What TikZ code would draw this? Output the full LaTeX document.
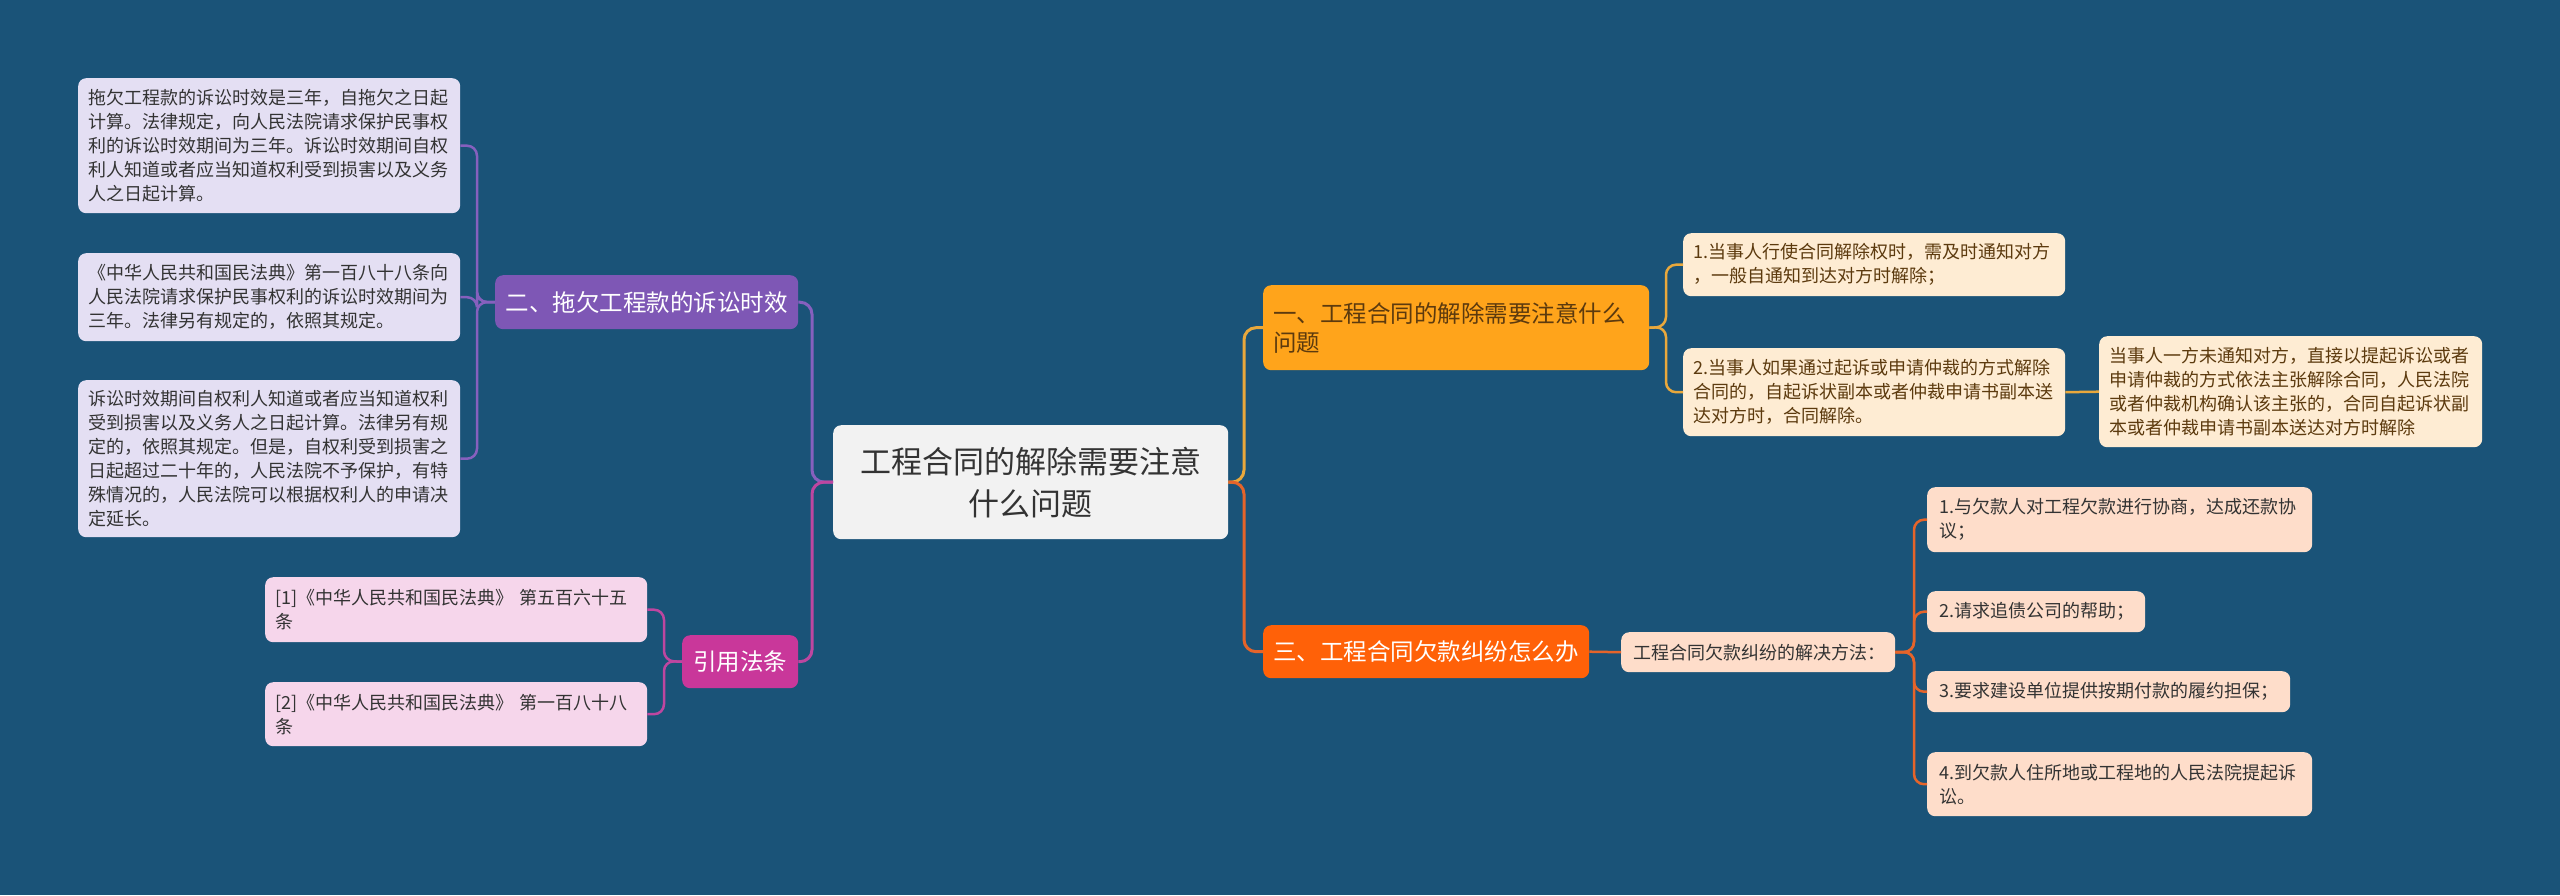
\documentclass[tikz,border=0pt]{standalone}
\usepackage{fontspec}
\setmainfont{Noto Sans CJK SC}
\definecolor{bg}{HTML}{1A5378}
\definecolor{rootfill}{HTML}{F2F2F2}
\definecolor{roottext}{HTML}{333333}
\definecolor{purfill}{HTML}{7E57B5}
\definecolor{purline}{HTML}{8660BE}
\definecolor{lavfill}{HTML}{E4DFF3}
\definecolor{pinkfill}{HTML}{C9379A}
\definecolor{pinkline}{HTML}{BE46A0}
\definecolor{citefill}{HTML}{F6D6EB}
\definecolor{goldfill}{HTML}{FFA41B}
\definecolor{goldline}{HTML}{E9A83C}
\definecolor{creamfill}{HTML}{FEECD3}
\definecolor{creamtext}{HTML}{5C3A0E}
\definecolor{orfill}{HTML}{FF6108}
\definecolor{orline}{HTML}{E5642A}
\definecolor{peachfill}{HTML}{FEDDCA}
\definecolor{darktext}{HTML}{333333}
\begin{document}
\begin{tikzpicture}[x=1pt,y=-1pt,
  bx/.style={rounded corners=8pt, inner ysep=0pt, anchor=north west},
  leaf/.style={bx, inner xsep=10pt, align=left, font=\fontsize{18}{24}\selectfont},
  lav/.style={leaf, fill=lavfill, text=darktext},
  cite/.style={leaf, fill=citefill, text=darktext},
  cream/.style={leaf, fill=creamfill, text=creamtext},
  peach/.style={leaf, inner xsep=12pt, fill=peachfill, text=darktext},
  mainbr/.style={bx, align=center, font=\fontsize{23.5}{29}\selectfont},
  mainline/.style={line width=3pt, rounded corners=12pt},
  subline/.style={line width=2.5pt, rounded corners=10pt}
]
\fill[bg] (0,0) rectangle (2560,895);
\useasboundingbox (0,0) rectangle (2560,895);

% junctions
\coordinate (jL) at (812,482);
\coordinate (jLL) at (477,302);
\coordinate (jP) at (664,661);
\coordinate (jR) at (1244,482);
\coordinate (jG) at (1666,327);
\coordinate (jO) at (1914,652);

% root
\node[bx, fill=rootfill, text=roottext, align=center, font=\fontsize{31}{42}\selectfont,
  minimum width=395pt, minimum height=114pt] (root) at (833,425) {工程合同的解除需要注意\\什么问题};

% left branch 二
\node[mainbr, fill=purfill, text=white, minimum width=303pt, minimum height=54pt] (n2) at (495,275) {二、拖欠工程款的诉讼时效};
\node[lav, text width=362pt, minimum height=135pt] (L1) at (78,78) {拖欠工程款的诉讼时效是三年，自拖欠之日起\\计算。法律规定，向人民法院请求保护民事权\\利的诉讼时效期间为三年。诉讼时效期间自权\\利人知道或者应当知道权利受到损害以及义务\\人之日起计算。};
\node[lav, text width=362pt, minimum height=88pt] (L2) at (78,253) {《中华人民共和国民法典》第一百八十八条向\\人民法院请求保护民事权利的诉讼时效期间为\\三年。法律另有规定的，依照其规定。};
\node[lav, text width=362pt, minimum height=157pt] (L3) at (78,380) {诉讼时效期间自权利人知道或者应当知道权利\\受到损害以及义务人之日起计算。法律另有规\\定的，依照其规定。但是，自权利受到损害之\\日起超过二十年的，人民法院不予保护，有特\\殊情况的，人民法院可以根据权利人的申请决\\定延长。};

% left branch 引用法条
\node[mainbr, fill=pinkfill, text=white, minimum width=116pt, minimum height=53pt] (cite) at (682,635) {引用法条};
\node[cite, text width=362pt, minimum height=65pt] (C1) at (265,577) {[1]《中华人民共和国民法典》 第五百六十五\\条};
\node[cite, text width=362pt, minimum height=64pt] (C2) at (265,682) {[2]《中华人民共和国民法典》 第一百八十八\\条};

% right branch 一
\node[bx, fill=goldfill, text=creamtext, inner xsep=10pt, align=left, font=\fontsize{23.5}{29}\selectfont,
  text width=366pt, minimum height=85pt] (n1) at (1263,285) {一、工程合同的解除需要注意什么\\问题};
\node[cream, text width=362pt, minimum height=63pt] (Cr1) at (1683,233) {1.当事人行使合同解除权时，需及时通知对方\\，一般自通知到达对方时解除；};
\node[cream, text width=362pt, minimum height=88pt] (Cr2) at (1683,348) {2.当事人如果通过起诉或申请仲裁的方式解除\\合同的，自起诉状副本或者仲裁申请书副本送\\达对方时，合同解除。};
\node[cream, text width=363pt, minimum height=111pt] (Cr3) at (2099,336) {当事人一方未通知对方，直接以提起诉讼或者\\申请仲裁的方式依法主张解除合同，人民法院\\或者仲裁机构确认该主张的，合同自起诉状副\\本或者仲裁申请书副本送达对方时解除};

% right branch 三
\node[mainbr, fill=orfill, text=white, minimum width=326pt, minimum height=53pt] (n3) at (1263,625) {三、工程合同欠款纠纷怎么办};
\node[peach, text width=250pt, minimum height=40pt] (M) at (1621,632) {工程合同欠款纠纷的解决方法：};
\node[peach, text width=361pt, minimum height=65pt] (P1) at (1927,487) {1.与欠款人对工程欠款进行协商，达成还款协\\议；};
\node[peach, text width=194pt, minimum height=41pt] (P2) at (1927,591) {2.请求追债公司的帮助；};
\node[peach, text width=339pt, minimum height=41pt] (P3) at (1927,671) {3.要求建设单位提供按期付款的履约担保；};
\node[peach, text width=361pt, minimum height=64pt] (P4) at (1927,752) {4.到欠款人住所地或工程地的人民法院提起诉\\讼。};

% connectors
\draw[mainline, purline] (root.west) -- (jL) |- (n2.east);
\draw[mainline, pinkline] (root.west) -- (jL) |- (cite.east);
\draw[mainline, goldline] (root.east) -- (jR) |- (n1.west);
\draw[mainline, orline] (root.east) -- (jR) |- (n3.west);

\draw[subline, purline] (n2.west) -- (jLL) |- (L1.east);
\draw[subline, purline] (n2.west) -- (jLL) |- (L2.east);
\draw[subline, purline] (n2.west) -- (jLL) |- (L3.east);

\draw[subline, pinkline] (cite.west) -- (jP) |- (C1.east);
\draw[subline, pinkline] (cite.west) -- (jP) |- (C2.east);

\draw[subline, goldline] (n1.east) -- (jG) |- (Cr1.west);
\draw[subline, goldline] (n1.east) -- (jG) |- (Cr2.west);
\draw[subline, goldline] (Cr2.east) -- (Cr3.west);

\draw[subline, orline] (n3.east) -- (M.west);
\draw[subline, orline] (M.east) -- (jO) |- (P1.west);
\draw[subline, orline] (M.east) -- (jO) |- (P2.west);
\draw[subline, orline] (M.east) -- (jO) |- (P3.west);
\draw[subline, orline] (M.east) -- (jO) |- (P4.west);
\end{tikzpicture}
\end{document}
